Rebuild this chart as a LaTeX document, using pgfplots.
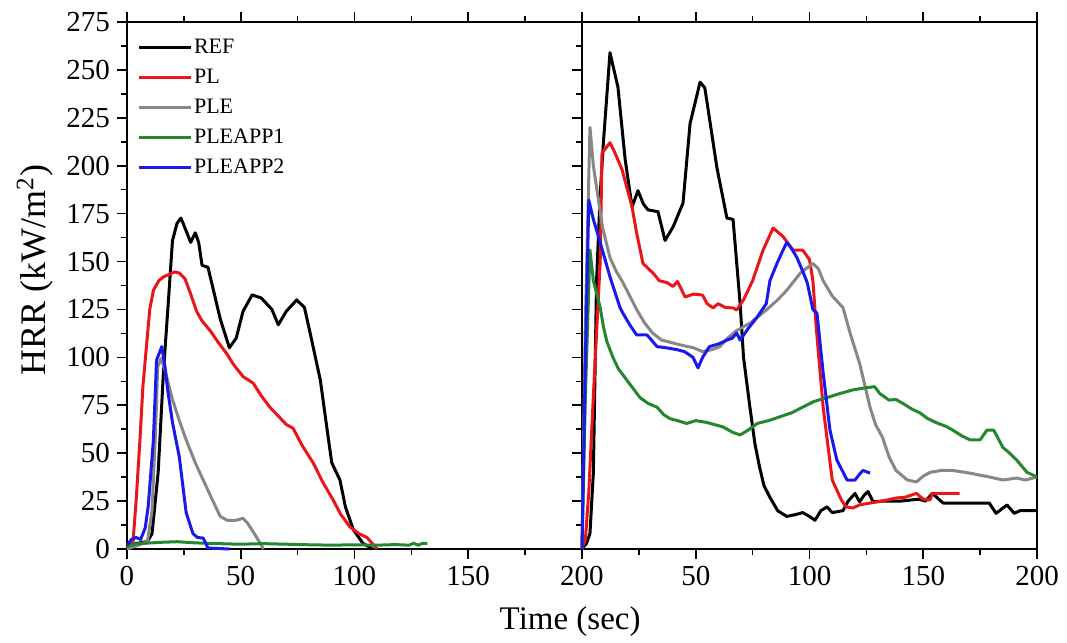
\documentclass[border=0pt]{standalone}
\usepackage{fontspec}
\setmainfont{Liberation Serif}
\usepackage{pgfplots}
\pgfplotsset{compat=1.18}
\definecolor{cref}{RGB}{0,0,0}
\definecolor{cpl}{RGB}{235,20,25}
\definecolor{cple}{RGB}{135,135,135}
\definecolor{capp1}{RGB}{35,135,45}
\definecolor{capp2}{RGB}{25,25,235}
\pgfplotsset{
  hrr/.style={
    scale only axis, width=227.5pt, height=263.5pt,
    xmin=0, xmax=200, ymin=0, ymax=275,
    xtick={0,50,...,200}, ytick={0,25,...,275},
    minor x tick num=1, minor y tick num=1,
    tick align=outside, major tick length=5pt, minor tick length=3pt,
    xtick pos=both, ytick pos=left,
    axis line style={line width=1pt},
    every tick/.style={line width=0.8pt, black},
    tick label style={font=\fontsize{14.5}{14.5}\selectfont},
    /pgf/number format/assume math mode=true,
    every axis plot/.append style={line width=1.5pt, line join=round},
    clip=false,
  }
}
\begin{document}
\begin{tikzpicture}
\begin{axis}[hrr,
  xlabel={Time (sec)},
  ylabel={HRR (kW/m\textsuperscript{2})},
  xlabel style={at={(axis description cs:0.974,-0.1385)}, anchor=center, font=\fontsize{16.5}{16.5}\selectfont},
  ylabel style={at={(axis description cs:-0.202,0.529)}, anchor=center, font=\fontsize{18}{18}\selectfont},
  legend style={at={(axis description cs:0.008,0.98)}, anchor=north west, draw=none, fill=none,
    font=\fontsize{11}{11}\selectfont, row sep=4.5pt,
    nodes={inner sep=1pt, text height=7.5pt, text depth=1pt}},
  legend cell align=left,
  legend image code/.code={\draw[#1] (0pt,0pt) -- (26pt,0pt);},
]
\addplot[cref] coordinates {(0,2) (5,3) (9,4) (11,8) (13.7,40) (16,92) (18,126) (20,161) (22,170) (23.7,172.7) (26,166) (28,160) (30,165) (31.5,160) (33,148) (35.6,147) (38,135) (41,120) (45,105) (48,110) (51,124) (55,132.6) (59,131) (63.7,125) (66.5,117) (70,124) (74.6,130) (78,126) (81,110) (85,88) (88,62) (90,45) (93.6,36) (96,22) (99.5,10) (103.7,3) (108,0)};
\addlegendentry{REF}
\addplot[cpl] coordinates {(0,0) (2.6,3) (4,25) (5.7,57) (7,85) (8.8,109) (10,125) (11.6,135) (14,140) (16,142) (21,144.6) (23,144) (25.5,141) (28,133) (30.6,124) (33,119) (36.5,114) (40,108) (43.8,102) (47,96) (51,90) (55.5,86.5) (59,80) (62.8,74) (66,70) (70,65) (73,63) (77,54) (81.8,45) (86,35) (90.6,25.6) (94,18) (98,11.5) (102,8) (105.5,6) (110,0)};
\addlegendentry{PL}
\addplot[cple] coordinates {(0,0) (5,2) (9,4) (11,20) (12.5,60) (13.5,95) (15,99.5) (17,92) (20,78) (23,67) (26,57) (30,45) (33.5,36) (37,27) (41,17) (44,15) (48,15) (51,16) (53,13.5) (56,8) (58.5,3) (60,0)};
\addlegendentry{PLE}
\addplot[capp1] coordinates {(0,1) (3,2.5) (8,3) (15,3.5) (22,3.8) (30,3.2) (40,2.8) (50,2.5) (60,2.8) (70,2.5) (80,2.2) (90,2) (100,2.2) (110,2) (118,2.3) (124,2) (126,3) (128,2) (130,3) (132,3)};
\addlegendentry{PLEAPP1}
\addplot[capp2] coordinates {(0,2) (2,5) (4,6) (6,5) (8,11) (9.3,22) (10.5,40) (11.6,57) (13,98.6) (15.3,105.6) (16.7,95) (18,82) (20,66) (23,48) (26,19) (29,8) (31,6) (33.5,5.7) (35.6,0.5) (45,0)};
\addlegendentry{PLEAPP2}
\end{axis}
\begin{axis}[hrr, at={(227.5pt,0pt)}, anchor=south west,
  xticklabels={,50,100,150,200}, yticklabels={}]
\addplot[cref] coordinates {(0,0) (2,3) (3.5,8) (5,40) (6.4,140) (8,185) (9.4,212) (12.3,259) (15.8,241) (19,203) (22,178.5) (24.6,187) (27,180) (29,177) (33.4,176) (36.5,161) (40,168) (44.4,180.5) (47.5,222) (51.9,243.6) (54,240.6) (59.3,199) (63.7,172.7) (66.4,172) (69.5,128) (71,100) (73.8,74) (76,55) (78,43) (80,33) (82.6,27) (86,20) (90,17) (94,18) (97,19) (100,17) (102.4,15) (105,20) (107.7,22) (110,19) (114.7,20) (117,25) (120,29) (122,24.6) (124,28) (125.7,30) (128,24.6) (132,25) (140,25) (148,26) (151,25) (154,29) (158.7,24) (165,24) (179,24) (182,18.6) (186.8,23) (190,18.6) (192.5,20) (200,20)};
\addplot[cpl] coordinates {(0,0) (1.5,5) (3,30) (5,80) (8,150) (8.8,206.7) (12.3,212) (14,208) (17.6,198) (22,178.5) (24,165) (26.8,149) (31.2,144) (34,140) (37.4,139) (40,137) (42,139.6) (45.3,131.5) (49,133) (53,132.5) (55,128) (57.6,125.8) (59.8,128) (63,126) (66.4,125.8) (68,124.7) (71,130) (75,140) (79.6,156) (84,167.5) (88.4,163) (92.7,156) (97,156) (100,151) (101.5,140) (103,115) (106,74) (110,36) (114,25.6) (116,22) (119,21.4) (122,23) (126.6,24) (132,25) (138,26.6) (142,27) (147,29) (150,26) (153,25.6) (154,29) (160,29) (166,29)};
\addplot[cple] coordinates {(0,0) (1.5,120) (3.5,220) (5,200) (7,184) (9,168) (12.3,152) (15,145) (18,139) (21,132) (24,125) (27.5,118) (31,112.7) (35,109) (40,107.5) (45,106) (49,105) (53,103) (57,104) (60.6,105.6) (64,110) (68,114) (74,118) (81,124.7) (86,130) (90,135) (96,144) (101.5,149) (104,146) (106,140) (110,132) (114.7,126) (118,112) (122,97) (126.6,74) (129,65) (132,58.5) (135,48) (138,41) (143,36) (147,35) (150,38) (153,40) (158,41) (163,41) (170.5,39.6) (175,38.5) (179,37.6) (185,36) (191,37) (195,36) (200,37.6)};
\addplot[capp1] coordinates {(0,0) (1.5,80) (3.5,156) (5,140) (8,126) (9.4,116) (11,108) (13.6,100) (16,94) (19.8,88) (25.5,79) (29,76) (33,74) (36,70) (38.7,68) (42,67) (46,65.5) (50,67) (55,66) (58,65) (62,63.7) (66,61) (69.5,59.5) (73,62) (77,65.5) (82,67) (87,69) (92,71) (97,74) (102,77) (107.7,79) (113,81) (119,83) (124,84) (128.6,84.7) (131,81) (135,77.7) (138,78) (141,76) (145,73) (148.6,71) (152,68) (156,65.8) (160,64) (163,62) (167,59) (170.5,57) (175,57) (178,62) (181,62) (185,53) (188,50) (191,46.5) (195.6,40) (200,37.6)};
\addplot[capp2] coordinates {(0,0) (1.5,100) (3,182) (5,172) (8,160) (12.3,142) (16.7,126) (18,123) (21,117) (24,111.7) (28.6,111.7) (33,105.6) (37,105) (41.8,104) (45,103) (48.8,100) (51,94.5) (53,100) (56,105.6) (60,107) (63.7,109) (66,110) (68,112.7) (69.5,109) (73,115) (77,121) (81,128) (82.6,140) (85.7,149) (88,155) (90,160) (92,157) (94.5,152) (97,145) (99,139) (101.5,125) (103.3,123) (106,92) (109,62) (112,46.5) (116.5,36) (120,36) (122,39) (123.5,41) (126.6,39.6)};
\end{axis}
\pgfresetboundingbox
\path[use as bounding box] (-63.5pt,-47pt) rectangle (470pt,274.5pt);
\end{tikzpicture}
\end{document}
